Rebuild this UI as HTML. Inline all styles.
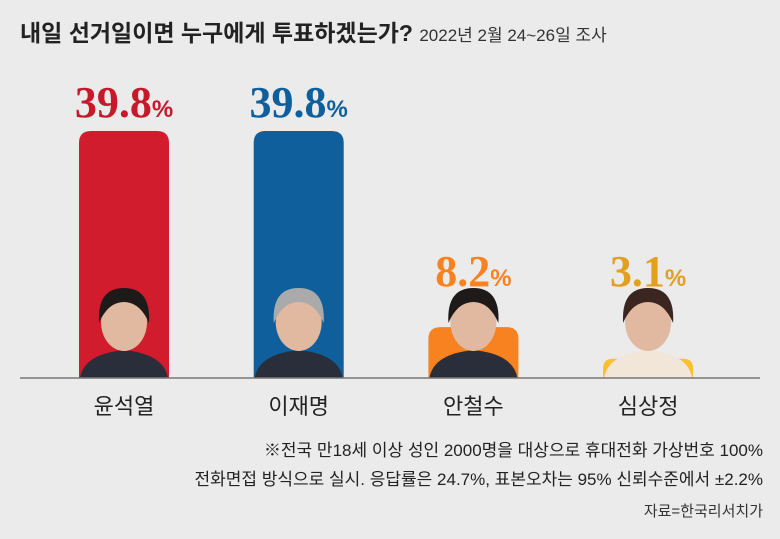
<!DOCTYPE html>
<html><head><meta charset="utf-8"><style>
body{margin:0;width:780px;height:539px;background:#ebebeb;font-family:"Liberation Sans","Noto Sans CJK KR",sans-serif;overflow:hidden;position:relative}
.t{position:absolute;white-space:nowrap}
</style></head><body>
<div class="t" style="left:20px;top:14px;font-size:23px;font-weight:bold;color:#222">내일 선거일이면 누구에게 투표하겠는가? <span style="font-size:17px;font-weight:normal;color:#333">2022년 2월 24~26일 조사</span></div>
<svg id="c" width="780" height="539" style="position:absolute;left:0;top:0"></svg>
<div class="t" style="right:17px;top:436px;font-size:17px;color:#222">※전국 만18세 이상 성인 2000명을 대상으로 휴대전화 가상번호 100%</div>
<div class="t" style="right:17px;top:465px;font-size:17px;color:#222">전화면접 방식으로 실시. 응답률은 24.7%, 표본오차는 95% 신뢰수준에서 ±2.2%</div>
<div class="t" style="right:17px;top:500px;font-size:15px;color:#333">자료=한국리서치가</div>
<script>
const candidates=["윤석열","이재명","안철수","심상정"];
const values=[39.8,39.8,8.2,3.1];
const labels=["39.8","39.8","8.2","3.1"];
const colors=["#d01c2c","#0f5f9c","#f7821f","#fcbf30"];
const textColors=["#c8192b","#0e5f9e","#f7821f","#e3a020"];
const svg=document.getElementById('c');const NS="http://www.w3.org/2000/svg";
const base=378,scale=247/39.8,x0=79,step=174.7,bw=90;
const y=v=>base-v*scale;
function mk(t,a){const e=document.createElementNS(NS,t);for(const k in a)e.setAttribute(k,a[k]);svg.appendChild(e);return e;}
candidates.forEach((c,i)=>{
 const x=x0+i*step,top=y(values[i]),h=base-top,r=Math.min(12,h/2);
 const b=mk('path',{d:`M${x},${base}V${top+r}Q${x},${top} ${x+r},${top}H${x+bw-r}Q${x+bw},${top} ${x+bw},${top+r}V${base}Z`,fill:colors[i]});
 
 
 const cx=x+bw/2;
 const g=mk('g',{});
 
 
 const suit=i==3?'#f1e6d8':'#2a2e3a';
 const s=document.createElementNS(NS,'path');s.setAttribute('d',`M${cx-44},${base}Q${cx-40},${base-24} ${cx},${base-28}Q${cx+40},${base-24} ${cx+44},${base}Z`);s.setAttribute('fill',suit);g.appendChild(s);
 const f=document.createElementNS(NS,'ellipse');f.setAttribute('cx',cx);f.setAttribute('cy',base-56);f.setAttribute('rx',23);f.setAttribute('ry',29);f.setAttribute('fill','#e0b9a0');g.appendChild(f);
 const hr=document.createElementNS(NS,'path');hr.setAttribute('d',`M${cx-25},${base-55}Q${cx-27},${base-90} ${cx},${base-90}Q${cx+27},${base-90} ${cx+25},${base-55}Q${cx+16},${base-76} ${cx},${base-76}Q${cx-16},${base-76} ${cx-25},${base-55}Z`);hr.setAttribute('fill',i==1?'#aaa':(i==3?'#3a2520':'#1e1a1a'));g.appendChild(hr);
 const ly=Math.min(top-14,base-92);
 const v=mk('text',{x:cx,y:ly,'text-anchor':'middle','font-family':'Liberation Serif, serif','font-weight':'bold','font-size':44,fill:textColors[i]});
 v.textContent=labels[i];
 const p=document.createElementNS(NS,'tspan');p.setAttribute('font-size',24);p.setAttribute('font-family','Liberation Sans, sans-serif');p.textContent='%';v.appendChild(p);
 
 
 const n=mk('text',{x:cx,y:414,'text-anchor':'middle','font-size':22,fill:'#222','font-family':'Liberation Sans, Noto Sans CJK KR, sans-serif'});
 n.textContent=c;
 
 
});
const bl=mk('line',{x1:20,x2:760,y1:base,y2:base,stroke:'#777','stroke-width':1.5});


</script>
</body></html>
